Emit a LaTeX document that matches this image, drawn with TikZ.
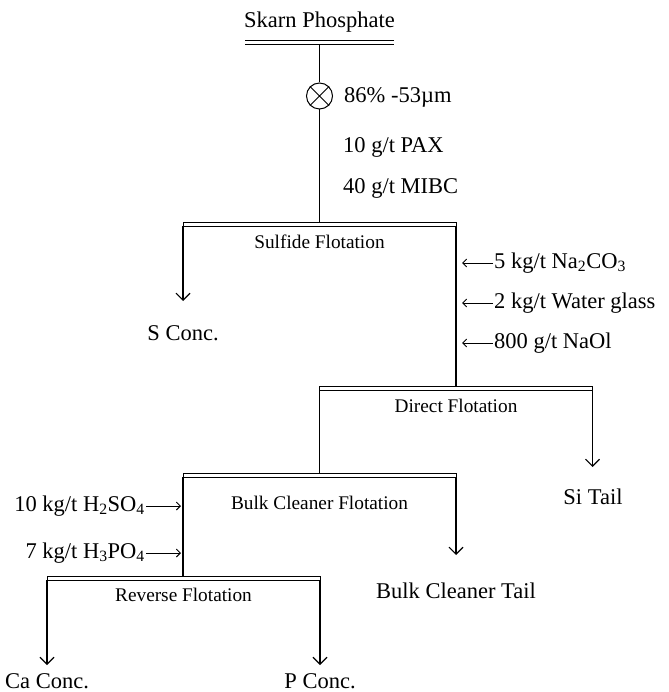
\documentclass[tikz,border=0pt]{standalone}
\usepackage{fontspec}
\setmainfont{Liberation Serif}
\usetikzlibrary{positioning,arrows.meta}

\begin{document}
\begin{tikzpicture}[x=1pt,y=-1pt,
    bar/.style={draw,rectangle,inner sep=0pt,outer sep=0pt,minimum width=273pt,minimum height=4pt,line width=0.8pt},
    stream/.style={line width=1.1pt},
    product/.style={-{Straight Barb[length=7pt,width=14pt]},line width=1.1pt},
    reagent/.style={-{Straight Barb[length=4pt,width=8pt]},line width=0.9pt},
    lbl/.style={font=\fontsize{22.5}{27}\selectfont,inner sep=1pt},
    stagelbl/.style={font=\fontsize{19.3}{23}\selectfont,inner sep=0pt}]
  \useasboundingbox (0,0) rectangle (668,692);
  % feed and grinding
  \node[lbl] (feed) at (319.5,22) {Skarn Phosphate};
  \node[bar,draw=none,minimum width=149pt] (feedbar) at (319.5,42.5) {};
  \draw[line width=0.8pt] (feedbar.north west) -- (feedbar.north east);
  \draw[line width=0.8pt] (feedbar.south west) -- (feedbar.south east);
  \node[draw,circle,minimum size=26pt,inner sep=0pt,line width=1pt] (mill) at (319.5,96) {};
  \draw[line width=1pt] (mill.north west) -- (mill.south east) (mill.north east) -- (mill.south west);
  \node[lbl,anchor=west] (grind) at (343,97) {86\% -53µm};
  \node[lbl,anchor=west] (pax) at (342,147) {10 g/t PAX};
  \node[lbl,anchor=west] (mibc) at (342,188) {40 g/t MIBC};
  \draw[stream] (feedbar.south) -- (mill.north);
  % sulfide flotation
  \node[bar] (sulf) at (319.5,224) {};
  \node[stagelbl] (sulflbl) at (319.5,242) {Sulfide Flotation};
  \draw[stream] (mill.south) -- (sulf.north);
  \node[lbl] (sconc) at (183,333) {S Conc.};
  \coordinate (sconcIn) at (183,301);
  \draw[product] (sulf.south west) -- (sulf.south west |- sconcIn);
  % reagents for direct flotation
  \node[lbl,anchor=west] (soda) at (493,263) {5 kg/t Na\textsubscript{2}CO\textsubscript{3}};
  \node[lbl,anchor=west] (glass) at (493,303) {2 kg/t Water glass};
  \node[lbl,anchor=west] (naol) at (493,343) {800 g/t NaOl};
  \foreach \r in {soda,glass,naol}
    \draw[reagent] (\r.west) -- ++(-31,0);
  % direct flotation
  \node[bar] (direct) at (456,388) {};
  \node[stagelbl] (directlbl) at (456,406) {Direct Flotation};
  \draw[stream] (sulf.south east) -- (sulf.south east |- direct.north);
  \node[lbl] (sitail) at (593,497) {Si Tail};
  \coordinate (sitailIn) at (593,467);
  \draw[product] (direct.south east) -- (direct.south east |- sitailIn);
  % bulk cleaner flotation
  \node[bar] (bulk) at (319.5,475) {};
  \node[stagelbl] (bulklbl) at (319.5,503) {Bulk Cleaner Flotation};
  \draw[stream] (direct.south west) -- (direct.south west |- bulk.north);
  \node[lbl] (bctail) at (456,591) {Bulk Cleaner Tail};
  \coordinate (bctailIn) at (456,555);
  \draw[product] (bulk.south east) -- (bulk.south east |- bctailIn);
  % reagents for reverse flotation
  \node[lbl,anchor=east] (sulfuric) at (146,506) {10 kg/t H\textsubscript{2}SO\textsubscript{4}};
  \node[lbl,anchor=east] (phosphoric) at (146,553) {7 kg/t H\textsubscript{3}PO\textsubscript{4}};
  \foreach \r in {sulfuric,phosphoric}
    \draw[reagent] (\r.east) -- ++(35,0);
  % reverse flotation
  \node[bar] (rev) at (183.5,578) {};
  \node[stagelbl] (revlbl) at (183.5,595) {Reverse Flotation};
  \draw[stream] (bulk.south west) -- (bulk.south west |- rev.north);
  \node[lbl] (caconc) at (47,681) {Ca Conc.};
  \node[lbl] (pconc) at (320,681) {P Conc.};
  \coordinate (caIn) at (47,665);
  \coordinate (pIn) at (320,665);
  \draw[product] (rev.south west) -- (rev.south west |- caIn);
  \draw[product] (rev.south east) -- (rev.south east |- pIn);
\end{tikzpicture}
\end{document}
